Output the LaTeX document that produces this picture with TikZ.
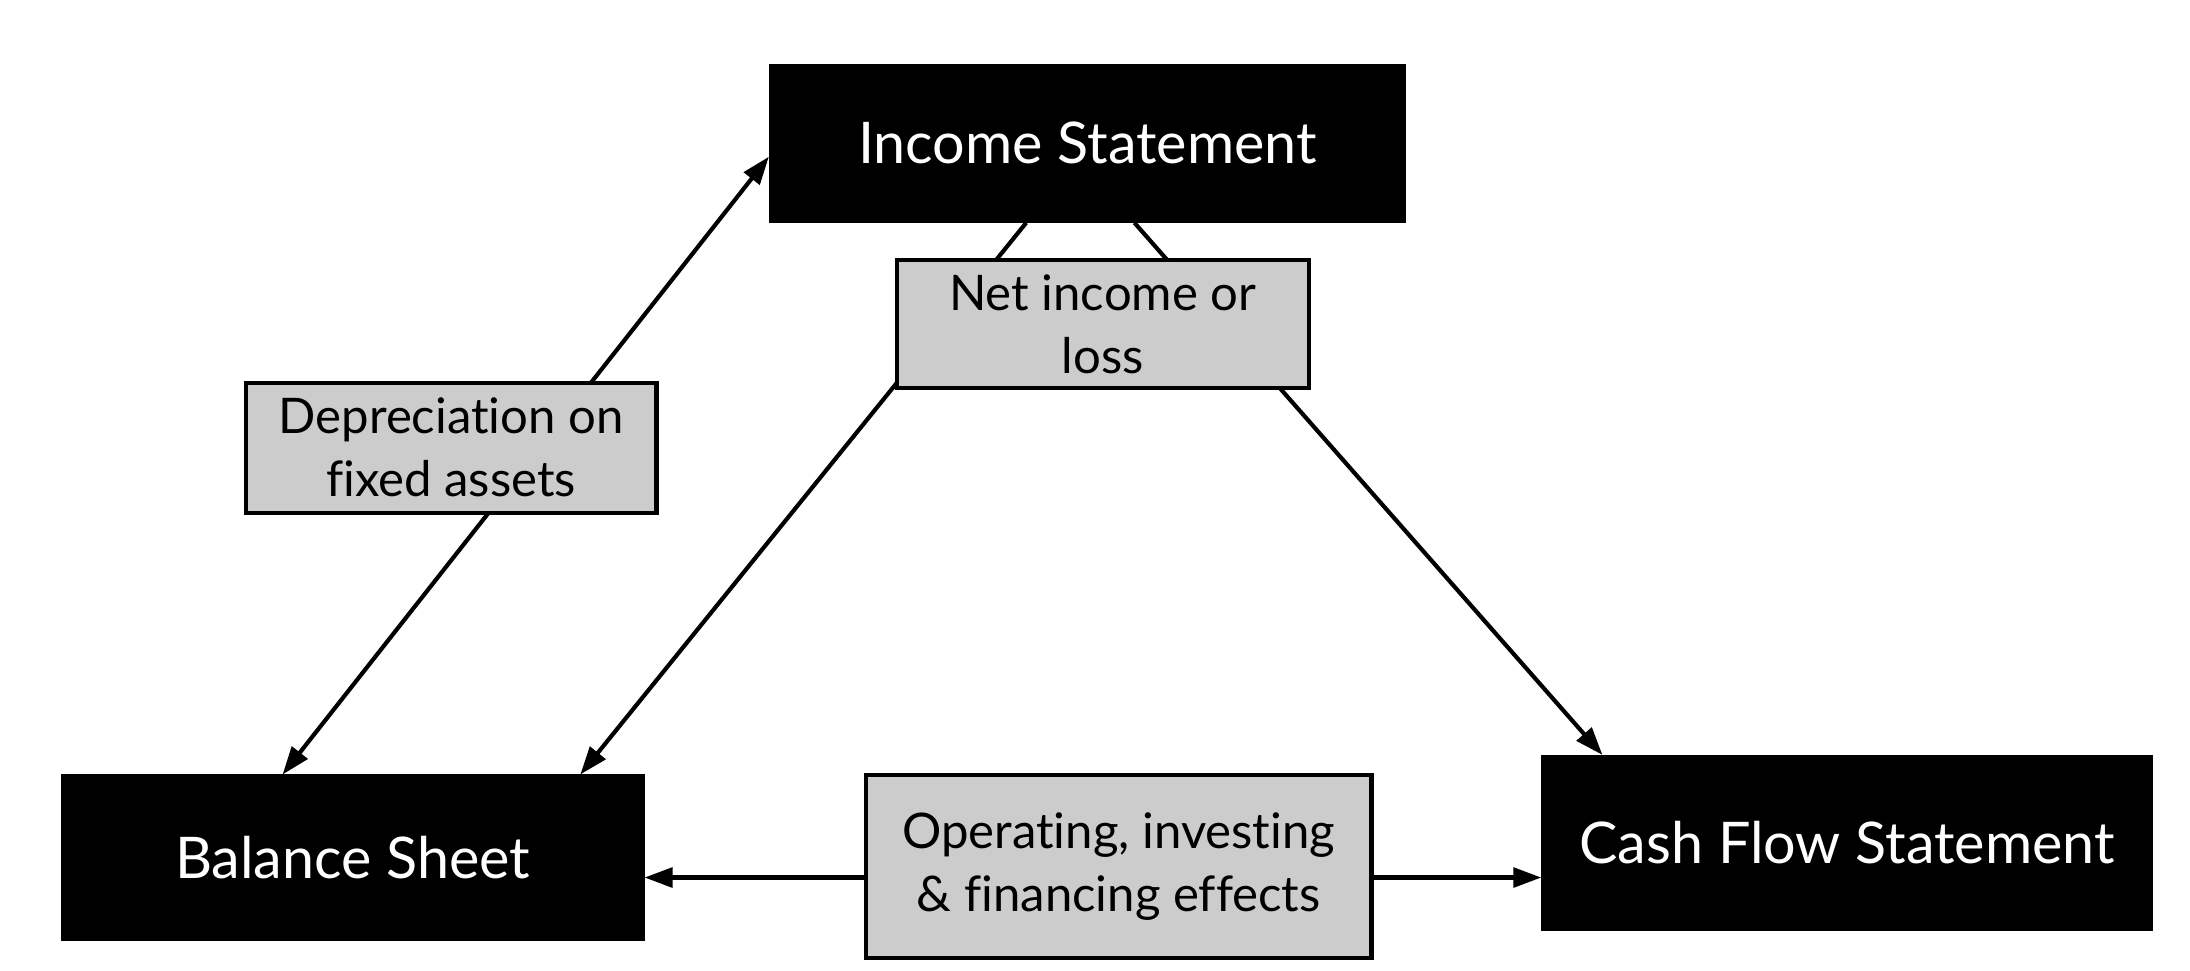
\documentclass[tikz,border=0pt]{standalone}
\usepackage{fontspec}
\setmainfont{Lato}[Ligatures={NoCommon,NoRare}]
\usetikzlibrary{calc,arrows.meta}
\begin{document}
\begin{tikzpicture}[
        line width=0.85pt,
        font=\fontsize{11.7}{15}\selectfont
    ]
    \tikzset{
        stmt/.style = {rectangle, draw=black, fill=black, text=white, align=center, inner sep=0pt},
        link/.style = {rectangle, draw=black, fill=gray!40, align=center, inner sep=0pt,
                       font=\fontsize{10}{12.8}\selectfont},
        onearrow/.style = {-{Triangle[length=2mm,width=1.4mm]}},
        twoarrow/.style = {{Triangle[length=2mm,width=1.4mm]}-{Triangle[length=2mm,width=1.4mm]}},
    }
    \useasboundingbox (0,0) rectangle (15.68,6.945);
    \node[stmt, minimum width=4.53cm, minimum height=1.11cm] at (7.785,5.92) (is) {Income Statement};
    \node[stmt, minimum width=4.15cm, minimum height=1.16cm] at (2.525,0.805) (bs) {Balance Sheet};
    \node[stmt, minimum width=4.35cm, minimum height=1.23cm] at (13.225,0.91) (cf) {Cash Flow Statement};
    %
    \coordinate (opl) at ($(bs.south east)!0.38!(bs.north east)$);
    \draw[twoarrow] ($(bs.north west)!0.38!(bs.north east)$) -- ($(is.south west)!0.415!(is.north west)$);
    \draw[onearrow] ($(is.south west)!0.404!(is.south east)$) -- ($(bs.north west)!0.89!(bs.north east)$);
    \draw[onearrow] ($(is.south west)!0.574!(is.south east)$) -- ($(cf.north west)!0.1!(cf.north east)$);
    \draw[twoarrow] (opl) -- (opl -| cf.west);
    %
    \node[link, minimum width=2.94cm, minimum height=0.93cm] at (3.23,3.74) (dep) {Depreciation on\\fixed assets};
    \node[link, minimum width=2.95cm, minimum height=0.92cm] at (7.895,4.625) (net) {Net income or\\loss};
    \node[link, minimum width=3.62cm, minimum height=1.31cm] at (8.01,0.74) (op) {Operating, investing\\\& financing effects};
\end{tikzpicture}
\end{document}
